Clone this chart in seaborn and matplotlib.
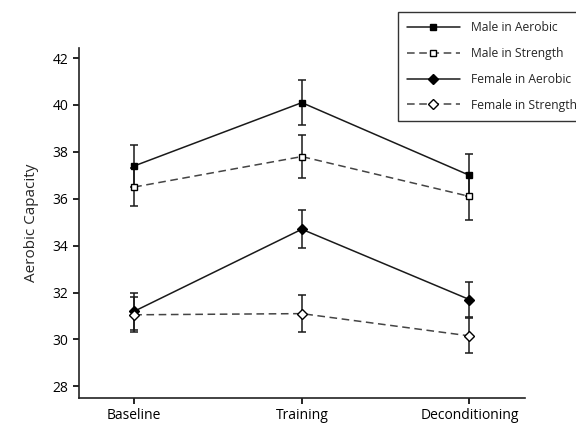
import pandas as pd
import numpy as np
import matplotlib.pyplot as plt
import seaborn as sns

# --- data ---
phases = ["Baseline", "Training", "Deconditioning"]
groups = ["Male in Aerobic", "Male in Strength", "Female in Aerobic", "Female in Strength"]

male_aerobic = [37.4, 40.1, 37.0]
male_strength = [36.5, 37.8, 36.1]
female_aerobic = [31.2, 34.7, 31.7]
female_strength = [31.05, 31.1, 30.15]

male_aerobic_err = [0.9, 0.95, 0.9]
male_strength_err = [0.8, 0.9, 1.0]
female_aerobic_err = [0.8, 0.8, 0.75]
female_strength_err = [0.75, 0.78, 0.75]

values = [male_aerobic, male_strength, female_aerobic, female_strength]
errors = [male_aerobic_err, male_strength_err, female_aerobic_err, female_strength_err]

rows = []
for g, vals, errs in zip(groups, values, errors):
    for p, v, e in zip(phases, vals, errs):
        rows.append({"phase": p, "group": g, "value": v, "err": e})
df = pd.DataFrame(rows)

sns.set_style("ticks")
plt.rcParams["font.family"] = ["Open Sans", "DejaVu Sans"]

# style per group: marker, facecolor, dashed
styles = {
    "Male in Aerobic": ("s", "black", False),
    "Male in Strength": ("s", "white", True),
    "Female in Aerobic": ("D", "black", False),
    "Female in Strength": ("D", "white", True),
}

fig = plt.figure(figsize=(5.76, 4.25), dpi=100)
ax = fig.add_axes([0.137, 0.0635, 0.774, 0.8235])

handles = []
for g in groups:
    marker, fc, dashed = styles[g]
    ms = 5 if marker == "s" else 5.5
    ls = (0, (5, 3)) if dashed else "-"
    col = "#444444" if dashed else "#1a1a1a"
    sub = df[df["group"] == g]
    xpos = [phases.index(p) for p in sub["phase"]]
    ax.errorbar(xpos, sub["value"], yerr=sub["err"], fmt="none", ecolor="#1a1a1a",
                elinewidth=1.1, capsize=2.8, capthick=1.1, zorder=2)
    sns.lineplot(x=xpos, y=sub["value"].values, ax=ax, color=col,
                 linewidth=1.1, linestyle=ls, marker=marker,
                 markersize=ms, markerfacecolor=fc,
                 markeredgecolor="black", markeredgewidth=1.0, zorder=3, legend=False)
    h, = ax.plot([], [], color=col, linewidth=1.1, linestyle=ls, marker=marker,
                 markersize=ms, markerfacecolor=fc, markeredgecolor="black")
    handles.append(h)

ax.set_xlim(-0.33, 2.33)
ax.set_ylim(27.5, 42.43)
ax.set_xticks(range(len(phases)))
ax.set_xticklabels(phases, fontsize=10)
ax.set_yticks(np.arange(28, 43, 2))
ax.tick_params(axis="y", labelsize=10, direction="out", length=4, width=1.2, colors="black")
ax.tick_params(axis="x", direction="out", length=4, width=1.2, colors="black")
ax.set_xlabel("")
ax.set_ylabel("Aerobic Capacity", fontsize=11, labelpad=10)
sns.despine(ax=ax)
for s in ["left", "bottom"]:
    ax.spines[s].set_linewidth(1.2)
    ax.spines[s].set_color("#222222")

leg = fig.legend(handles, groups, loc="upper left", bbox_to_anchor=(0.68, 0.985),
                 fontsize=8.7, handlelength=4.4, frameon=True, fancybox=False,
                 edgecolor="black", borderpad=0.75, labelspacing=1.05, handletextpad=0.9)
leg.get_frame().set_linewidth(1.0)

fig.savefig("out.png", dpi=100)
